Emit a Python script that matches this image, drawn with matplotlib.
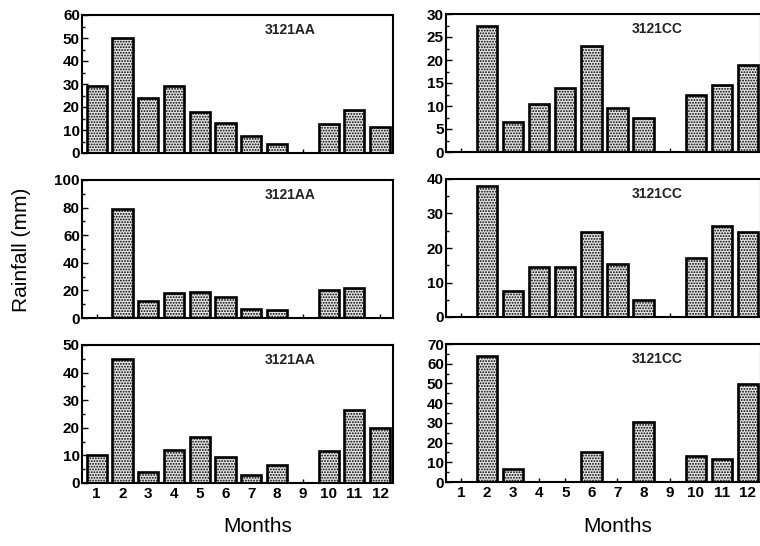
import matplotlib
matplotlib.use("Agg")
import matplotlib.pyplot as plt
from matplotlib.ticker import MultipleLocator

plt.rcParams['font.family'] = ['Liberation Sans', 'DejaVu Sans']
plt.rcParams['hatch.color'] = '#6a6a6a'
plt.rcParams['hatch.linewidth'] = 0.9

months = list(range(1, 13))
month_labels = [str(m) for m in months]

aa_1 = [29, 50, 24, 29, 18, 13, 7.5, 4, 0, 12.5, 18.5, 11.5]
cc_1 = [0, 27.5, 6.5, 10.5, 14, 23, 9.5, 7.5, 0, 12.5, 14.5, 19]
aa_2 = [0, 79, 12, 18, 19, 15, 6.5, 5.5, 0, 20, 21.5, 0]
cc_2 = [0, 38, 7.5, 14.5, 14.5, 24.5, 15.5, 5, 0, 17, 26.5, 24.5]
aa_3 = [10, 45, 4, 12, 16.5, 9.5, 3, 6.5, 0, 11.5, 26.5, 20]
cc_3 = [0, 64, 6.5, 0, 0, 15, 0, 30.5, 0, 13, 11.5, 49.5]

panels = [
    # (values, label, ymax, ystep, left, bottom, width)
    (aa_1, '3121AA', 60, 10, 82, 153, 311),
    (cc_1, '3121CC', 30, 5, 446, 152, 315),
    (aa_2, '3121AA', 100, 20, 82, 318, 311),
    (cc_2, '3121CC', 40, 10, 446, 317, 315),
    (aa_3, '3121AA', 50, 10, 82, 483, 311),
    (cc_3, '3121CC', 70, 10, 446, 482, 315),
]

W, H = 760, 546
fig = plt.figure(figsize=(W / 100, H / 100), dpi=100)

for i, (vals, lab, ymax, ystep, lx, by, wd) in enumerate(panels):
    ax = fig.add_axes([lx / W, (H - by) / H, wd / W, 138 / H])
    ax.bar(months, vals, width=0.78, facecolor='#e4e4e4', edgecolor='black',
           linewidth=1.9, hatch='......', zorder=2)
    ax.set_xlim(0.43, 12.5)
    ax.set_ylim(0, ymax)
    ax.yaxis.set_major_locator(MultipleLocator(ystep))
    ax.yaxis.set_minor_locator(MultipleLocator(ystep / 2))
    ax.set_xticks(months)
    ax.tick_params(axis='both', which='both', direction='in', labelsize=11,
                   width=1.0, pad=1.5)
    ax.tick_params(axis='y', which='major', length=4)
    ax.tick_params(axis='y', which='minor', length=2)
    ax.tick_params(axis='x', length=3, pad=3)
    for t in ax.get_yticklabels():
        t.set_fontweight('bold')
    if i >= 4:
        ax.set_xticklabels(month_labels, fontweight='bold')
    else:
        ax.set_xticklabels([])
    for s in ax.spines.values():
        s.set_linewidth(1.5)
    ax.text(0.67, 0.89, lab, transform=ax.transAxes, ha='center', va='center',
            fontsize=10, fontweight='bold', color='#222222')

fig.text(22 / W, 1 - 250 / H, 'Rainfall (mm)', rotation=90, ha='center',
         va='center', fontsize=15)
fig.text(258 / W, 1 - 527 / H, 'Months', ha='center', va='center', fontsize=15)
fig.text(618 / W, 1 - 527 / H, 'Months', ha='center', va='center', fontsize=15)

fig.savefig('out.png', dpi=100)
